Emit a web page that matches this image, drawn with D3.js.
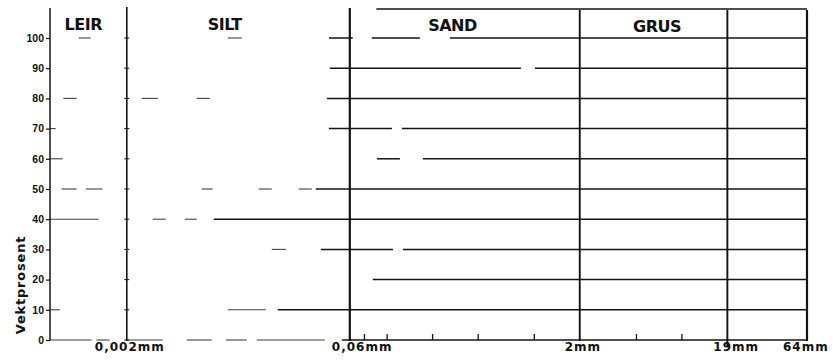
<!DOCTYPE html>
<html>
<head>
<meta charset="utf-8">
<script src="https://cdn.jsdelivr.net/npm/d3@7"></script>
<style>
  html, body { margin: 0; padding: 0; background: #fff; }
  svg { display: block; }
  .frac { font-family: "DejaVu Sans", sans-serif; font-weight: bold; font-size: 16px; letter-spacing: -0.5px; fill: #111; }
  .size { font-family: "DejaVu Sans", sans-serif; font-weight: bold; font-size: 12px; letter-spacing: 1px; fill: #111; }
  .pct  { font-family: "Liberation Sans", Arial, sans-serif; font-weight: bold; font-size: 10.5px; fill: #111; }
  .ytitle { font-family: "DejaVu Sans", sans-serif; font-weight: bold; font-size: 13px; letter-spacing: 0.8px; fill: #111; }
</style>
</head>
<body>
<svg id="chart" width="833" height="363"></svg>
<script>
// Grain-size diagram: weight percent against grain diameter (mm, log scale)

// left edge of the diagram, in mm
const xMin = 0.00062;

// fraction boundaries and their labels
const sizeBounds = [0.002, 0.06, 2, 19, 64];
const sizeLabels = ["0,002mm", "0,06mm", "2mm", "19mm", "64mm"];

// fraction names and the grain size each name is centred on
const fractionNames = ["LEIR", "SILT", "SAND", "GRUS"];
const fractionLabelAt = [0.00103, 0.0089, 0.287, 6.5];

// percent levels on the vertical axis
const percentTicks = [0, 10, 20, 30, 40, 50, 60, 70, 80, 90, 100];

// sieve openings marked along the bottom (mm)
const sieveTicks = [0.075, 0.106, 0.212, 0.425, 1, 4.75, 9.5];

// printed runs of each horizontal percent line, as [from mm, to mm]
const gridLevels = [0, 10, 20, 30, 40, 50, 60, 70, 80, 90, 100];
const gridRuns = [
  [[xMin, 0.00117], [0.00126, 0.00154], [0.002, 0.00346], [0.00499, 0.00731], [0.00905, 0.01246], [0.01452, 0.0410], [0.0531, 64]],
  [[xMin, 0.00072], [0.00933, 0.01666], [0.0200, 64]],
  [[0.0852, 64]],
  [[0.01825, 0.0226], [0.0386, 0.1157], [0.1348, 64]],
  [[xMin, 0.00130], [0.00297, 0.00362], [0.00484, 0.00581], [0.00754, 64]],
  [[0.00074, 0.00093], [0.00107, 0.00138], [0.00627, 0.00742], [0.01497, 0.01825], [0.02756, 0.0336], [0.0357, 64]],
  [[xMin, 0.000752], [0.0906, 0.1288], [0.1829, 64]],
  [[xMin, 0.000676], [0.0436, 0.1140], [0.1327, 64]],
  [[0.00076, 0.00093], [0.00251, 0.00321], [0.00581, 0.00709], [0.0423, 64]],
  [[0.0442, 0.8155], [1.01, 64]],
  [[0.00096, 0.00115], [0.00933, 0.01155], [0.0436, 0.0628], [0.0839, 0.1746], [0.2761, 64]]
];

// top edge of the frame over the coarse fractions (mm)
const frameTopRun = [0.09, 64];

const svg = d3.select("#chart");
const ink = "#141414";

const x = d3.scaleLog().domain([xMin, 64]).range([50, 807]);
const y = d3.scaleLinear().domain([0, 100]).range([340, 38]);
const frameTop = 9;

// horizontal percent lines
const runs = [];
gridLevels.forEach((lv, i) => gridRuns[i].forEach(r => runs.push({ lv, a: r[0], b: r[1] })));
svg.append("g").selectAll("line").data(runs).join("line")
  .attr("x1", d => x(d.a)).attr("x2", d => x(d.b))
  .attr("y1", d => y(d.lv)).attr("y2", d => y(d.lv))
  .attr("stroke", ink)
  .attr("stroke-width", d => d.b > 0.06 ? 1.5 : 1.1)
  .attr("opacity", d => d.b > 0.06 ? 1 : 0.8);

// top frame edge
svg.append("line")
  .attr("x1", x(frameTopRun[0])).attr("x2", x(frameTopRun[1]))
  .attr("y1", frameTop).attr("y2", frameTop)
  .attr("stroke", ink).attr("stroke-width", 1.5);

// vertical boundaries
const vWidth = [1.6, 2.2, 1.9, 1.9, 2.2];
const vTop = [7, 8, 10, 10, 10];
const vBottom = [341, 341, 341, 346, 341];
svg.append("g").selectAll("line").data(sizeBounds).join("line")
  .attr("x1", d => x(d)).attr("x2", d => x(d))
  .attr("y1", (d, i) => vTop[i]).attr("y2", (d, i) => vBottom[i])
  .attr("stroke", ink).attr("stroke-width", (d, i) => vWidth[i]);

// left axis with outward ticks
const yAxis = svg.append("g").attr("transform", `translate(${x(xMin)},0)`)
  .call(d3.axisLeft(y).tickValues(percentTicks).tickSize(4).tickPadding(2).tickFormat(d3.format("d")));
yAxis.select(".domain").remove();
yAxis.selectAll(".tick line").attr("stroke", ink).attr("stroke-width", 1.2);
yAxis.selectAll(".tick text").attr("class", "pct").attr("font-family", null).attr("font-size", null).attr("fill", null);
svg.append("line")
  .attr("x1", x(xMin)).attr("x2", x(xMin))
  .attr("y1", 8).attr("y2", y(0))
  .attr("stroke", ink).attr("stroke-width", 1.5);

// small cross ticks on the clay/silt boundary
svg.append("g").selectAll("line").data(percentTicks).join("line")
  .attr("x1", x(sizeBounds[0]) - 2.5).attr("x2", x(sizeBounds[0]) + 2.5)
  .attr("y1", d => y(d)).attr("y2", d => y(d))
  .attr("stroke", ink).attr("stroke-width", 1);

// sieve ticks along the bottom
svg.append("g").selectAll("line").data(sieveTicks).join("line")
  .attr("x1", d => x(d)).attr("x2", d => x(d))
  .attr("y1", y(0)).attr("y2", y(0) - 6)
  .attr("stroke", ink).attr("stroke-width", 1.3);

// fraction names
const fracBaseline = [30, 30, 30.5, 32];
svg.append("g").selectAll("text").data(fractionNames).join("text")
  .attr("class", "frac")
  .attr("x", (d, i) => x(fractionLabelAt[i]))
  .attr("y", (d, i) => fracBaseline[i])
  .attr("text-anchor", "middle")
  .text(d => d);

// grain-size boundary labels
const sizeLabelShift = [-32, -18, -15, -14, -24];
svg.append("g").selectAll("text").data(sizeLabels).join("text")
  .attr("class", "size")
  .attr("x", (d, i) => x(sizeBounds[i]) + sizeLabelShift[i])
  .attr("y", 351)
  .text(d => d);

// vertical axis title
svg.append("text")
  .attr("class", "ytitle")
  .attr("transform", "translate(25,285) rotate(-90)")
  .attr("text-anchor", "middle")
  .text("Vektprosent");
</script>
</body>
</html>
